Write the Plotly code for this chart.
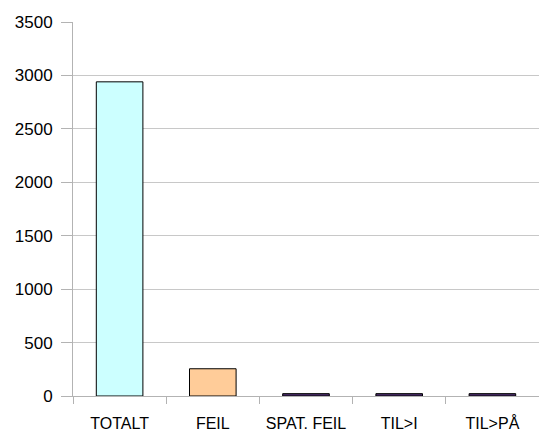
import plotly.graph_objects as go

# Category labels and counts
categories = ["TOTALT", "FEIL", "SPAT. FEIL", "TIL>I", "TIL>PÅ"]
counts = [2940, 255, 22, 22, 22]
bar_colors = ["#ccffff", "#ffcc99", "#4b2d6b", "#4b2d6b", "#4b2d6b"]

y_ticks = [0, 500, 1000, 1500, 2000, 2500, 3000, 3500]

fig = go.Figure(
    go.Bar(
        x=categories,
        y=counts,
        marker=dict(color=bar_colors, line=dict(color="#000000", width=1)),
        width=0.5,
    )
)

axis_grey = "#b3b3b3"
fig.update_layout(
    width=539,
    height=432,
    margin=dict(l=73, r=0, t=22, b=36),
    paper_bgcolor="white",
    plot_bgcolor="white",
    showlegend=False,
    font=dict(family="Liberation Sans, Arial, sans-serif", size=17, color="#000000"),
    xaxis=dict(
        type="category",
        tickson="boundaries",
        ticks="outside",
        ticklen=7,
        tickcolor=axis_grey,
        tickangle=0,
        showgrid=False,
        showline=True,
        linecolor=axis_grey,
        linewidth=1,
        tickfont=dict(size=16),
        ticklabelstandoff=13,
        automargin=False,
    ),
    yaxis=dict(
        range=[0, 3500],
        tickvals=y_ticks,
        ticks="outside",
        ticklen=11,
        tickcolor=axis_grey,
        showgrid=True,
        gridcolor="#c8c8c8",
        showline=True,
        linecolor=axis_grey,
        linewidth=1,
        zeroline=False,
        tickfont=dict(size=17),
        ticklabelstandoff=5,
        automargin=False,
    ),
)

fig.write_html("out.html")
